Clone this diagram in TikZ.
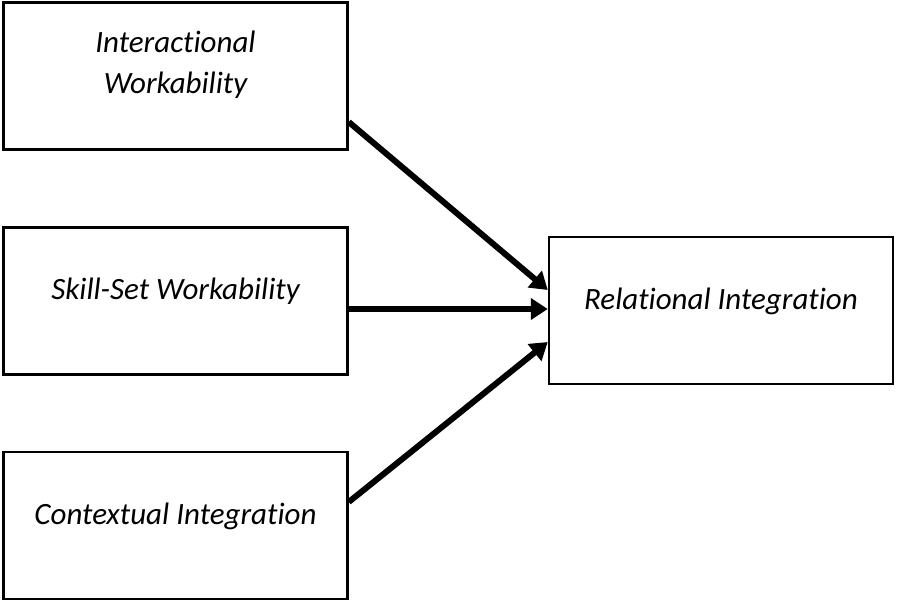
\documentclass[tikz,border=0pt]{standalone}
\usepackage{fontspec}
\setmainfont[Ligatures=NoCommon]{Carlito}
\usetikzlibrary{arrows.meta}
\tikzset{
  box/.style={draw, line width=2.5pt, minimum width=344pt, minimum height=147pt,
    align=center, font=\fontsize{31}{40}\selectfont\itshape, inner sep=0pt,
    text height=20pt, text depth=23pt},
  arr/.style={line width=6pt, -{Triangle[length=17pt,width=21pt]}}
}
\begin{document}
\begin{tikzpicture}[x=1pt,y=-1pt]
\useasboundingbox (0,0) rectangle (897,602);
\node[box, text height=51pt, text depth=17pt] (iw) at (175.5,76) {Interactional\\Workability};
\node[box] (sw) at (175.5,301) {Skill-Set Workability};
\node[box] (ci) at (175.5,525.5) {Contextual Integration};
\node[box] (ri) at (721,310.5) {Relational Integration};
\draw[arr] ([yshift=-46pt]iw.east) -- ([yshift=20.5pt]ri.west);
\draw[arr] ([yshift=-8pt]sw.east) -- ([yshift=1.5pt]ri.west);
\draw[arr] ([yshift=23.5pt]ci.east) -- ([yshift=-31.5pt]ri.west);
\end{tikzpicture}
\end{document}
